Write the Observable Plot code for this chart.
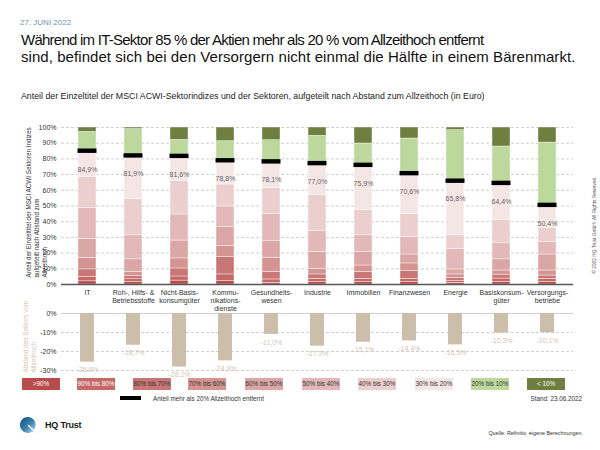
<!DOCTYPE html>
<html><head><meta charset="utf-8">
<script src="https://cdn.jsdelivr.net/npm/d3@7"></script>
<script src="https://cdn.jsdelivr.net/npm/@observablehq/plot@0.6"></script>
<style>
body{margin:0;background:#fff;font-family:"Liberation Sans",Arial,sans-serif;}
#page{position:relative;width:600px;height:450px;overflow:hidden;background:#fff;}
.abs{position:absolute;white-space:nowrap;}
.lg{position:absolute;top:378px;width:38px;height:12px;font-size:6.3px;line-height:12px;text-align:center;color:#333;}
</style></head><body><div id="page">
<div class="abs" style="left:20px;top:18px;font-size:8px;line-height:10px;color:#6a93b6;">27. JUNI 2022</div>
<div class="abs" style="left:21px;top:30.5px;font-size:15px;line-height:17px;color:#111;letter-spacing:-0.75px;">Während im IT-Sektor 85 % der Aktien mehr als 20 % vom Allzeithoch entfernt</div>
<div class="abs" style="left:21px;top:47.5px;font-size:15px;line-height:17px;color:#111;letter-spacing:0.06px;">sind, befindet sich bei den Versorgern nicht einmal die Hälfte in einem Bärenmarkt.</div>
<div class="abs" style="left:21px;top:91px;font-size:8.8px;line-height:10px;color:#222;">Anteil der Einzeltitel der MSCI ACWI-Sektorindizes und der Sektoren, aufgeteilt nach Abstand zum Allzeithoch (in Euro)</div>
<div id="topChart" class="abs" style="left:0;top:110px;"></div>
<div id="bottomChart" class="abs" style="left:0;top:300px;"></div>
<div id="legend"></div>
<div class="abs" style="left:120px;top:396px;width:21px;height:3.5px;background:#000;"></div>
<div class="abs" style="left:153px;top:394px;font-size:6.3px;line-height:10px;color:#333;">Anteil mehr als 20% Allzeithoch entfernt</div>
<div class="abs" style="right:18px;top:394px;font-size:6.3px;line-height:10px;color:#333;">Stand: 23.06.2022</div>
<svg class="abs" style="left:19px;top:416px;" width="18" height="18" viewBox="0 0 18 18">
<defs><linearGradient id="lg1" x1="0" y1="0" x2="1" y2="1"><stop offset="0" stop-color="#0b4a78"/><stop offset="0.55" stop-color="#3f86b3"/><stop offset="1" stop-color="#d6e8f2"/></linearGradient></defs>
<path d="M9 1 A8 8 0 1 0 13.5 15.6 L16.5 17.5 L15.2 13.6 A8 8 0 0 0 9 1 Z" fill="url(#lg1)"/>
<path d="M9 9 L17 17" stroke="#fff" stroke-width="1.2"/>
</svg>
<div class="abs" style="left:45px;top:420px;font-size:9px;line-height:11px;font-weight:bold;color:#1a1a1a;letter-spacing:-0.2px;">HQ Trust</div>
<div class="abs" style="right:17px;top:429px;font-size:5.4px;line-height:8px;color:#333;">Quelle: Refinitiv, eigene Berechnungen.</div>
<div class="abs" style="left:595px;top:225px;transform:translate(-50%,-50%) rotate(-90deg);font-size:4.8px;line-height:6px;color:#555;">© 2022 HQ Trust GmbH. All Rights Reserved.</div>
</div>
<script>
const sectors = ["IT","Roh","NichtBasis","Komm","Gesundheit","Industrie","Immobilien","Finanzwesen","Energie","Basiskonsum","Versorgung"];
const sectorLabels = ["IT","Roh-, Hilfs- &\nBetriebsstoffe","Nicht-Basis-\nkonsumgüter","Kommu-\nnikations-\ndienste","Gesundheits-\nwesen","Industrie","Immobilien","Finanzwesen","Energie","Basiskonsum-\ngüter","Versorgungs-\nbetriebe"];

const cats = [">90%","90% bis 80%","80% bis 70%","70% bis 60%","60% bis 50%","50% bis 40%","40% bis 30%","30% bis 20%","20% bis 10%","< 10%"];
const catColors = ["#b84c4a","#c56968","#c97776","#d49492","#dba7a6","#e2b9b8","#ebcfcf","#f5e6e6","#bdd89c","#6f7f3f"];
const legendTextColors = ["#fff","#fff","#333","#333","#333","#333","#333","#333","#333","#fff"];

const gt90   = [2.0, 1.5, 2.5, 2.1, 1.0, 1.5, 1.6, 1.5, 1.0, 1.7, 1.6];
const d90_80 = [3.0, 1.8, 2.6, 4.3, 2.2, 2.1, 2.0, 2.1, 1.1, 2.1, 2.0];
const d80_70 = [4.6, 2.0, 5.1, 11.0, 4.9, 2.8, 4.3, 4.9, 2.2, 2.5, 2.1];
const d70_60 = [7.4, 2.8, 6.4, 7.0, 9.0, 3.6, 4.2, 4.9, 2.1, 2.6, 3.2];
const d60_50 = [12.1, 7.9, 11.4, 12.1, 10.4, 10.6, 8.5, 5.7, 3.2, 7.1, 10.2];
const d50_40 = [19.8, 15.3, 16.6, 13.2, 17.6, 13.4, 10.7, 11.3, 13.2, 10.2, 7.9];
const d40_30 = [19.8, 23.0, 21.2, 14.0, 16.4, 22.8, 16.1, 14.3, 8.5, 14.9, 9.2];
const d30_20 = [16.2, 27.6, 15.8, 15.1, 16.6, 20.2, 28.5, 25.9, 34.5, 23.3, 14.2];
const d20_10 = [12.3, 17.1, 10.5, 12.5, 13.8, 17.7, 13.9, 22.4, 32.5, 23.5, 40.0];
const lt10   = [2.8, 1.0, 7.9, 8.7, 8.1, 5.3, 10.2, 7.0, 1.7, 12.1, 9.6];

const shareOver20 = [84.9, 81.9, 81.6, 78.8, 78.1, 77.0, 75.9, 70.6, 65.8, 64.4, 50.4];
const sectorDrawdown = [-25.6, -16.7, -28.2, -24.9, -11.0, -17.2, -15.1, -14.4, -16.5, -10.3, -10.1];

const topTicks = [0,10,20,30,40,50,60,70,80,90,100];
const bottomTicks = [0,-10,-20,-30];

const catValues = [gt90,d90_80,d80_70,d70_60,d60_50,d50_40,d40_30,d30_20,d20_10,lt10];
const stackData = sectors.flatMap((s,i)=>cats.map((c,j)=>({sector:s,cat:c,value:catValues[j][i]})));
const shareData = sectors.map((s,i)=>({sector:s,v:shareOver20[i]}));
const ddData = sectors.map((s,i)=>({sector:s,v:sectorDrawdown[i]}));
const fmt = v => v.toFixed(1).replace(".",",") + "%";
const font = '"Liberation Sans",Arial,sans-serif';
const xOpts = {type:"band",domain:sectors,paddingInner:0.61,paddingOuter:0.35,axis:null};

const topPlot = Plot.plot({
  width:600,height:210,marginTop:17,marginBottom:36,marginLeft:61,marginRight:27,
  style:{background:"transparent",overflow:"visible",fontFamily:font,fontSize:"7px",color:"#333"},
  x:xOpts,
  y:{domain:[0,100],ticks:topTicks,tickFormat:d=>d+"%",tickSize:0,tickPadding:5,label:null},
  color:{domain:cats,range:catColors},
  marks:[
    Plot.ruleY(topTicks.filter(d=>d>0),{stroke:"#c4c4c4",strokeDasharray:"3,2",strokeWidth:0.8}),
    Plot.barY(stackData,{x:"sector",y:"value",fill:"cat",stroke:"#fff",strokeWidth:0.4,order:null}),
    Plot.rectY(shareData,{x:"sector",y1:d=>d.v-1.4,y2:d=>d.v+1.4,fill:"#000",insetLeft:-0.5,insetRight:-0.5}),
    Plot.text(shareData,{x:"sector",y:d=>d.v-11.5,text:d=>fmt(d.v),fill:"#666",fontSize:7}),
    Plot.ruleY([0],{stroke:"#555",strokeWidth:1.5}),
    Plot.text(sectors,{x:d=>d,text:(d,i)=>sectorLabels[i],frameAnchor:"bottom",lineAnchor:"top",dy:4.5,fontSize:7,fill:"#333",lineHeight:1.18}),
    Plot.text(["Anteil der Einzeltitel der MSCI ACWI Sektoren Indizes\naufgeteilt nach Abstand zum\nAllzeithoch"],{frameAnchor:"bottom-left",textAnchor:"start",lineAnchor:"middle",dx:-25,dy:-7,rotate:-90,fontSize:6.3,fill:"#333",lineHeight:1.25})
  ]
});
document.getElementById("topChart").appendChild(topPlot);

const bottomPlot = Plot.plot({
  width:600,height:80,marginTop:13,marginBottom:10,marginLeft:61,marginRight:27,
  style:{background:"transparent",overflow:"visible",fontFamily:font,fontSize:"7px",color:"#333"},
  x:xOpts,
  y:{domain:[-30,0],ticks:bottomTicks,tickFormat:d=>d+"%",tickSize:0,tickPadding:5,label:null},
  marks:[
    Plot.ruleY(bottomTicks.filter(d=>d<0),{stroke:"#c4c4c4",strokeDasharray:"3,2",strokeWidth:0.8}),
    Plot.ruleY([0],{stroke:"#d0d0d0",strokeWidth:1}),
    Plot.barY(ddData,{x:"sector",y:"v",fill:"#cdbdab",insetLeft:2,insetRight:2}),
    Plot.text(ddData,{x:"sector",y:"v",text:d=>fmt(d.v),dy:8,fill:"#d3c4b5",fontSize:7}),
    Plot.text(["Abstand des Sektors vom\nAllzeithoch"],{frameAnchor:"bottom-left",textAnchor:"start",lineAnchor:"middle",dx:-32,dy:2,rotate:-90,fontSize:6.3,fill:"#d3c4b5",lineHeight:1.2})
  ]
});
document.getElementById("bottomChart").appendChild(bottomPlot);

const legendX = [22,77,133,188,245,302,358,415,471,527];
const legend = document.getElementById("legend");
cats.forEach((c,i)=>{
  const d = document.createElement("div");
  d.className = "lg";
  d.style.left = legendX[i]+"px";
  d.style.background = catColors[i];
  d.style.color = legendTextColors[i];
  d.textContent = c;
  legend.appendChild(d);
});
</script>
</body></html>
